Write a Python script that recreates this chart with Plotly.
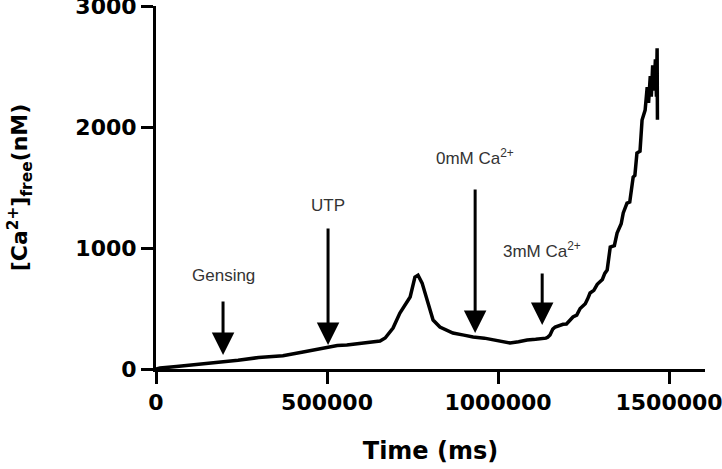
import plotly.graph_objects as go

time_ms = [0, 11700, 60000, 120000, 178000, 240000, 300000, 371000, 430000, 470000,
           500000, 530000, 558000, 596000, 630000, 655000, 670000, 693000, 713000, 730000,
           743000, 757000, 766000, 778000, 792000, 810000, 830000, 868000, 900000, 927000,
           960000, 985000, 1010000, 1035000, 1060000, 1085000, 1110000, 1123000, 1140000, 1145000,
           1152000, 1160000, 1167000, 1190000, 1200000, 1219000, 1230000, 1240000, 1255000, 1262000,
           1269000, 1280000, 1290000, 1305000, 1312000, 1319000, 1322000, 1328000, 1340000, 1348000,
           1360000, 1366000, 1377000, 1385000, 1395000, 1400000, 1406000, 1415000, 1421000, 1430000,
           1436000, 1440000, 1445000, 1448000, 1452000, 1456000, 1460000, 1463000, 1465000, 1466000]
ca_nM = [0, 8, 20, 35, 50, 72, 95, 110, 140, 160,
         182, 195, 198, 210, 222, 231, 256, 339, 463, 540,
         595, 760, 775, 710, 570, 405, 347, 297, 280, 264,
         255, 240, 230, 215, 225, 240, 245, 248, 255, 262,
         281, 330, 347, 370, 372, 430, 445, 500, 540, 580,
         628, 650, 700, 740, 790, 818, 900, 1008, 1020, 1123,
         1200, 1290, 1371, 1380, 1586, 1600, 1784, 1800, 2057, 2140,
         2330, 2200, 2420, 2250, 2510, 2300, 2560, 2250, 2650, 2060]

event_labels = ["Gensing", "UTP", "0mM Ca<sup>2+</sup>", "3mM Ca<sup>2+</sup>"]
event_time = [196000, 503000, 933000, 1129000]
arrow_tip = [116, 198, 297, 363]
arrow_tail = [570, 1173, 1495, 801]
label_y = [776, 1355, 1751, 983]

x_ticks = [0, 500000, 1000000, 1500000]
y_ticks = [0, 1000, 2000, 3000]

fig = go.Figure()
fig.add_trace(go.Scatter(x=time_ms, y=ca_nM, mode="lines",
                         line=dict(color="black", width=3.5), showlegend=False))

for lab, xt, tip, tail, ly in zip(event_labels, event_time, arrow_tip, arrow_tail, label_y):
    fig.add_annotation(x=xt, y=tip, ax=xt, ay=tail, axref="x", ayref="y",
                       xref="x", yref="y", text="", showarrow=True,
                       arrowhead=2, arrowsize=1.5, arrowwidth=3, arrowcolor="black")
    fig.add_annotation(x=xt, y=ly, xref="x", yref="y", text=lab, showarrow=False,
                       font=dict(family="Liberation Sans", size=17, color="#333333"))

axis_font = dict(family="DejaVu Sans", size=22, color="black", weight="bold")
fig.update_layout(
    width=722, height=469,
    margin=dict(l=156, r=17, t=6, b=100),
    paper_bgcolor="white", plot_bgcolor="white",
    xaxis=dict(range=[0, 1605000], tickvals=x_ticks, ticktext=[str(v) for v in x_ticks],
               showline=True, linewidth=3, linecolor="black", ticks="outside",
               ticklen=12, tickwidth=3, tickcolor="black", showgrid=False, zeroline=False,
               tickfont=axis_font, ticklabeloverflow="allow", automargin=False,
               title=dict(text="Time (ms)", font=dict(family="DejaVu Sans", size=24,
                                                      color="black", weight="bold"), standoff=28)),
    yaxis=dict(range=[0, 3000], tickvals=y_ticks, ticktext=[str(v) for v in y_ticks],
               showline=True, linewidth=3, linecolor="black", ticks="outside",
               ticklen=12, tickwidth=3, tickcolor="black", showgrid=False, zeroline=False,
               tickfont=axis_font, ticklabeloverflow="allow", automargin=False,
               title=dict(text="[Ca<sup>2+</sup>]<sub>free</sub>(nM)",
                          font=dict(family="DejaVu Sans", size=22, color="black", weight="bold"),
                          standoff=42)),
)

fig.write_html("out.html")
